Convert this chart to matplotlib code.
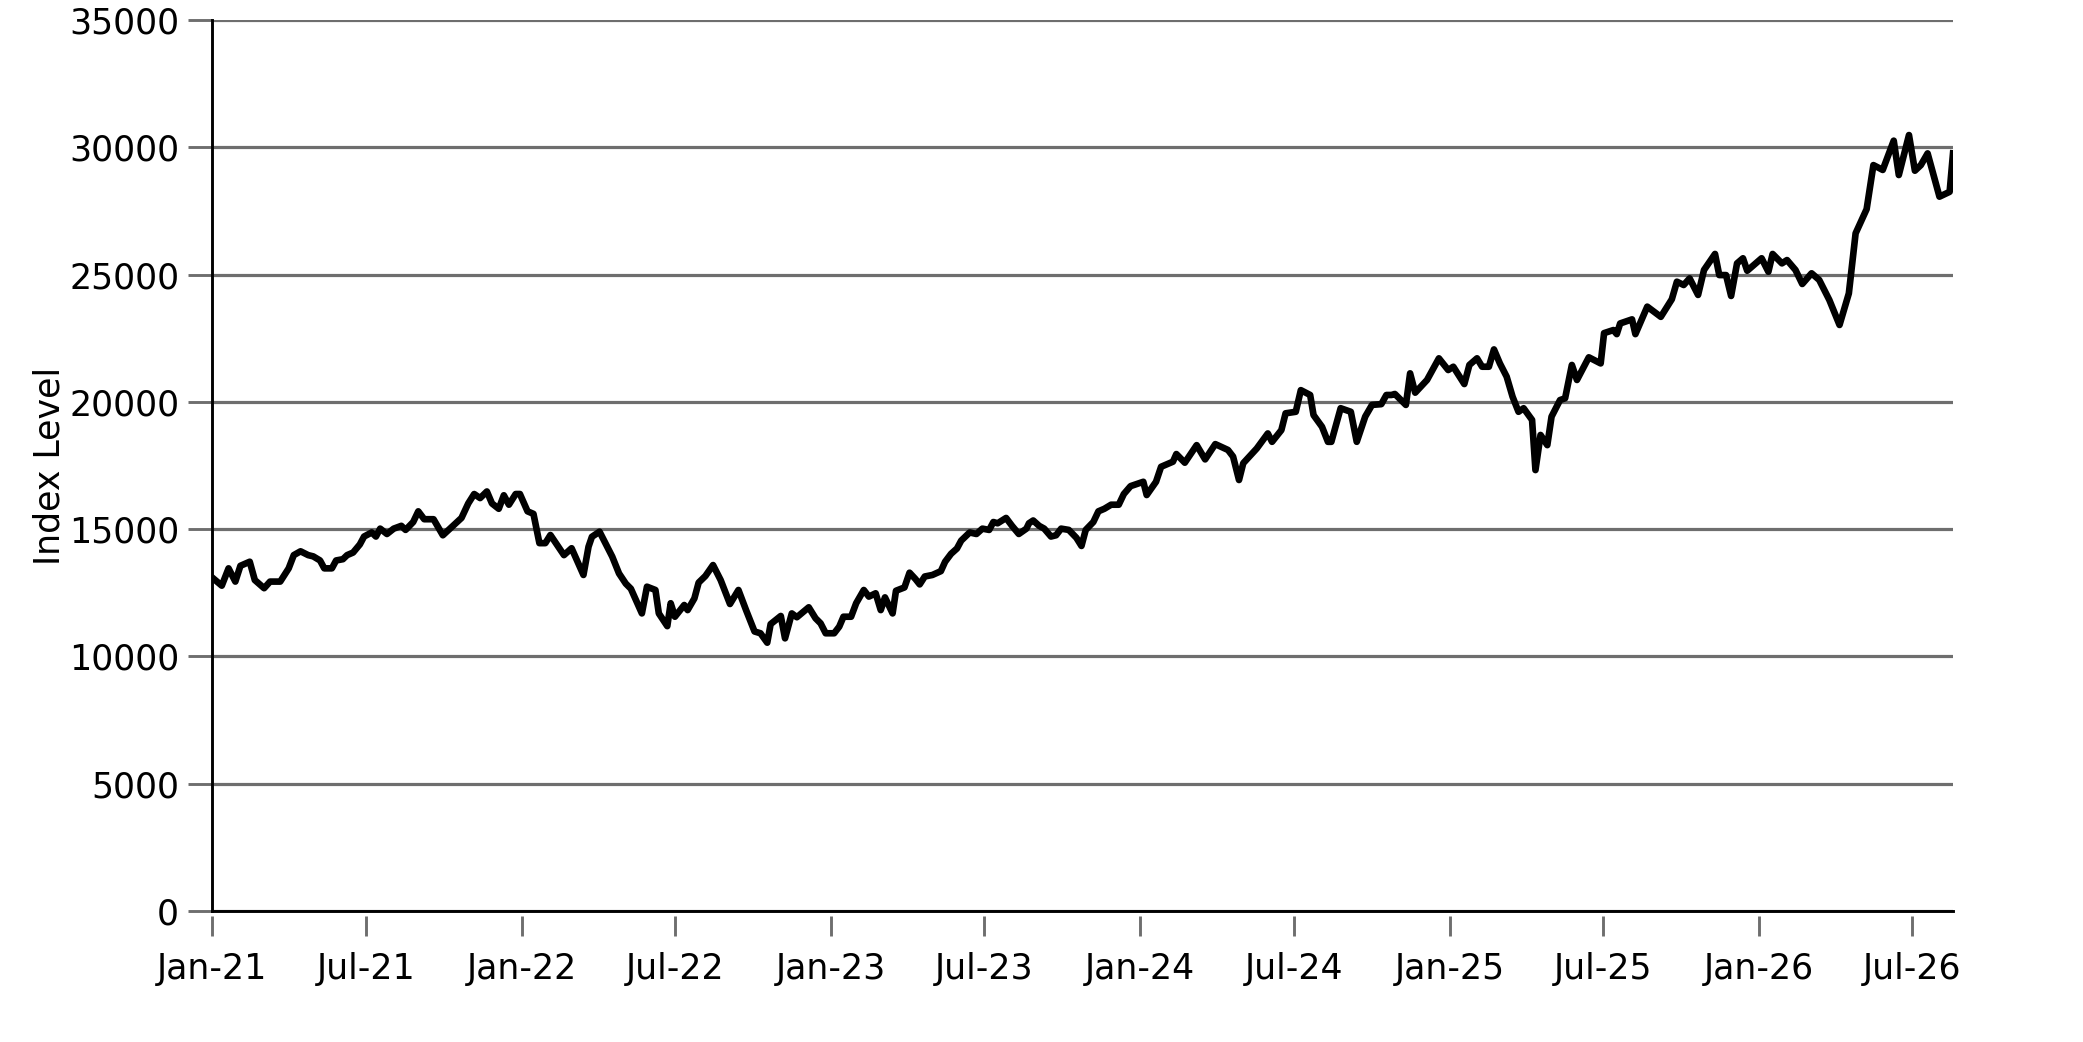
import matplotlib
matplotlib.use("Agg")
import matplotlib.pyplot as plt
import matplotlib.dates as mdates
import pandas as pd

# days after 2021-01-01
day_offsets = [
    0, 11, 19, 27, 33, 44, 50, 61, 68, 80, 90, 96, 104, 113, 119, 127, 132, 141, 146, 154,
    159, 166, 174, 179, 188, 193, 198, 206, 214, 223, 228, 237, 243, 250, 261, 272, 284, 294, 302, 309,
    316, 324, 330, 338, 344, 350, 358, 363, 372, 379, 386, 393,
    399, 415, 424, 438, 444, 448, 457, 472, 480, 488, 494, 507, 513, 523, 527, 537, 541, 546, 557, 561,
    569, 574, 582, 591, 600, 611, 621, 630, 640, 647, 655, 659, 671, 676, 684, 690, 704, 712, 718, 724,
    734, 740, 745, 754, 760, 769, 775, 783, 789, 794, 803, 807, 817, 823,
    830, 835, 841, 850, 860, 865, 872, 879, 884, 894, 902, 909, 917, 922, 927, 937, 944, 952, 961, 964,
    969, 976, 982, 990, 996, 1002, 1011, 1020, 1026, 1031, 1040, 1046, 1053, 1061, 1070, 1076, 1084,
    1099, 1103, 1114, 1120, 1134, 1138, 1148, 1162, 1172, 1184, 1199, 1205, 1212, 1217, 1233, 1246, 1251, 1262, 1267, 1279,
    1285, 1296, 1300, 1310, 1317, 1321, 1332, 1344, 1351, 1361, 1369, 1380, 1386, 1392,
    1396, 1409, 1414, 1420, 1434, 1448, 1459, 1465, 1478, 1484, 1493, 1499, 1507, 1513, 1520, 1528, 1535, 1542, 1548, 1558,
    1562, 1568, 1576, 1581, 1591, 1597, 1605, 1611, 1625, 1639,
    1643, 1654, 1658, 1662, 1676, 1680, 1694, 1710, 1723, 1729, 1737, 1744, 1754, 1761, 1774, 1779, 1787, 1793, 1800, 1807,
    1812, 1829, 1837, 1842, 1853, 1859, 1869, 1877, 1888, 1897, 1909, 1921, 1932, 1940, 1953, 1961, 1972, 1985, 1991, 2003,
    2010, 2017, 2025, 2039, 2051, 2055,
]

index_level = [
    13090, 12780, 13460, 12940, 13560, 13720, 13000, 12680, 12940, 12940, 13460, 13980, 14130, 13980, 13930, 13770, 13460, 13460, 13770, 13820,
    13980, 14080, 14400, 14710, 14870, 14710, 15020, 14810, 15020, 15130, 14970, 15280, 15700, 15390, 15390, 14760, 15130, 15440, 16010, 16380,
    16220, 16480, 16010, 15800, 16330, 15960, 16380, 16380, 15700, 15600, 14450, 14450,
    14770, 13980, 14250, 13200, 14310, 14700, 14900, 13920, 13260, 12860, 12660, 11690, 12740, 12610, 11690, 11190, 12090, 11560, 12020, 11820,
    12280, 12900, 13160, 13590, 13000, 12060, 12610, 11820, 10980, 10910, 10540, 11270, 11590, 10710, 11690, 11540, 11930, 11500, 11300, 10910,
    10910, 11170, 11560, 11560, 12090, 12610, 12350, 12480, 11820, 12320, 11690, 12580, 12710, 13290,
    13040, 12830, 13140, 13200, 13350, 13720, 14030, 14240, 14550, 14870, 14810, 15020, 14970, 15280, 15230, 15440, 15130, 14810, 15020, 15230,
    15340, 15130, 15020, 14710, 14760, 15020, 14970, 14660, 14340, 14970, 15280, 15700, 15800, 15960, 15960, 16380, 16690,
    16860, 16340, 16860, 17450, 17650, 17950, 17610, 18300, 17740, 18340, 18110, 17850, 16930, 17590, 18170, 18760, 18430, 18890, 19550, 19610,
    20460, 20270, 19480, 19020, 18430, 18430, 19750, 19610, 18430, 19420, 19880, 19910, 20270, 20270,
    20310, 19880, 21120, 20360, 20860, 21710, 21250, 21380, 20700, 21450, 21710, 21380, 21380, 22060, 21510, 20990, 20200, 19610, 19750, 19290,
    17320, 18700, 18300, 19420, 20070, 20140, 21450, 20860, 21750, 21510,
    22700, 22820, 22660, 23080, 23240, 22660, 23740, 23340, 24030, 24720, 24590, 24850, 24200, 25180, 25810, 24980, 24980, 24160, 25440, 25640,
    25150, 25640, 25110, 25810, 25440, 25570, 25180, 24630, 25050, 24790, 24000, 23020, 24260, 26620, 27570, 29300, 29110, 30260, 28910, 30480,
    29080, 29300, 29760, 28060, 28250, 29760,
]

y_ticks = [0, 5000, 10000, 15000, 20000, 25000, 30000, 35000]

dates = pd.Timestamp("2021-01-01") + pd.to_timedelta(day_offsets, unit="D")

grid_grey = "#6e6e6e"

fig = plt.figure(figsize=(10, 5.0025), dpi=208.3)
ax = fig.add_axes([0.102, 0.1257, 0.8356, 0.8551])

ax.plot(dates, index_level, color="black", linewidth=2.3, zorder=3)

ax.set_xlim(dates[0], dates[-1])
ax.set_ylim(0, 35000)
ax.set_yticks(y_ticks)
ax.yaxis.grid(True, color=grid_grey, linewidth=1.1)
ax.set_axisbelow(True)

ax.xaxis.set_major_locator(mdates.MonthLocator(bymonth=[1, 7]))
ax.xaxis.set_major_formatter(mdates.DateFormatter("%b-%y"))

ax.spines["top"].set_visible(False)
ax.spines["right"].set_visible(False)
ax.spines["left"].set_color("black")
ax.spines["left"].set_linewidth(1.0)
# x ticks hang a little below the baseline, so shift the (hidden) spine and draw the baseline separately
ax.spines["bottom"].set_position(("outward", 1.6))
ax.spines["bottom"].set_visible(False)
ax.axhline(0, color="black", linewidth=1.0, clip_on=False, zorder=4)

ax.tick_params(axis="y", length=8.3, width=1.0, color=grid_grey, pad=3.2, labelsize=12)
ax.tick_params(axis="x", length=7.0, width=1.0, color=grid_grey, pad=5.5, labelsize=12)
ax.set_ylabel("Index Level", fontsize=12, labelpad=1)

fig.savefig("out.png", dpi=208.3)
